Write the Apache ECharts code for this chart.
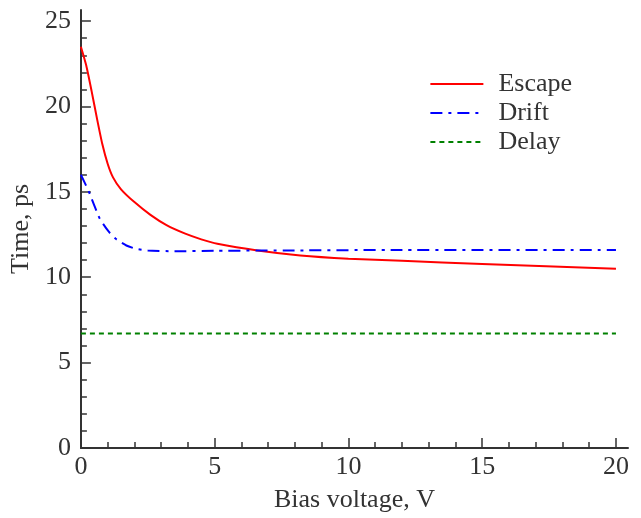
<!DOCTYPE html>
<html>
<head>
<meta charset="utf-8">
<script src="https://cdn.jsdelivr.net/npm/echarts@6/dist/echarts.min.js"></script>
<style>
  html, body { margin: 0; padding: 0; background: #fff; }
  #chart { width: 641px; height: 518px; }
</style>
</head>
<body>
<div id="chart"></div>
<script>
// values
var escapeX = [0, 0.2, 0.4, 0.6, 0.8, 1.0, 1.2, 1.5, 2.0, 2.6, 3.2, 3.9, 4.5, 5.1, 6.6, 8.2, 10, 12, 15, 20]
var escapeY = [23.5, 22.4, 20.9, 19.3, 17.8, 16.65, 15.85, 15.15, 14.4, 13.65, 13.05, 12.55, 12.22, 11.96, 11.57, 11.28, 11.09, 10.96, 10.78, 10.5]

var driftX = [0, 0.3, 0.7, 1.05, 1.3, 1.7, 2.05, 2.5, 3.5, 5, 8, 12, 20]
var driftY = [16.0, 15.0, 13.45, 12.65, 12.25, 11.86, 11.67, 11.57, 11.52, 11.55, 11.57, 11.6, 11.6]

var delayX = [0, 20]
var delayY = [6.7, 6.7]

var xMajor = [0, 5, 10, 15, 20]
var xMinor = [1, 2, 3, 4, 6, 7, 8, 9, 11, 12, 13, 14, 16, 17, 18, 19]
var yMajor = [0, 5, 10, 15, 20, 25]
var yMinor = [1, 2, 3, 4, 6, 7, 8, 9, 11, 12, 13, 14, 16, 17, 18, 19, 21, 22, 23, 24]

function pairs(xs, ys) {
  return xs.map(function(x, i) { return [x, ys[i]] })
}

var font = 'Liberation Serif'
var fs = 26
var ink = '#333'
var xMax = 20.45
var yMax = 25.65

var chart = echarts.init(document.getElementById('chart'))
chart.setOption({
  animation: false,
  grid: { left: 80, right: 13, top: 10, bottom: 67, containLabel: false },
  legend: {
    right: 64,
    top: 66,
    orient: 'vertical',
    itemWidth: 53,
    itemHeight: 26,
    itemGap: 3,
    itemStyle: { opacity: 0 },
    textStyle: { fontFamily: font, fontSize: fs, color: ink, padding: [0, 0, 0, 10] },
    data: ['Escape', 'Drift', 'Delay']
  },
  xAxis: [
    {
      type: 'value', min: 0, max: xMax, interval: 5,
      name: 'Bias voltage, V', nameLocation: 'middle', nameGap: 39,
      nameTextStyle: { fontFamily: font, fontSize: fs, color: ink },
      axisLine: { lineStyle: { color: ink, width: 2 } },
      axisTick: { inside: true, length: 10, customValues: xMajor, lineStyle: { color: ink, width: 1.5 } },
      axisLabel: { customValues: xMajor, margin: 6, fontFamily: font, fontSize: fs, color: ink },
      splitLine: { show: false }
    },
    {
      type: 'value', min: 0, max: xMax, position: 'bottom',
      axisLine: { show: false },
      axisTick: { inside: true, length: 6, customValues: xMinor, lineStyle: { color: ink, width: 1.5 } },
      axisLabel: { show: false },
      splitLine: { show: false }
    }
  ],
  yAxis: [
    {
      type: 'value', min: 0, max: yMax, interval: 5,
      name: 'Time, ps', nameLocation: 'middle', nameGap: 44,
      nameTextStyle: { fontFamily: font, fontSize: fs, color: ink },
      axisLine: { show: true, lineStyle: { color: ink, width: 2 } },
      axisTick: { show: true, inside: true, length: 10, customValues: yMajor, lineStyle: { color: ink, width: 1.5 } },
      axisLabel: { customValues: yMajor, margin: 10, fontFamily: font, fontSize: fs, color: ink },
      splitLine: { show: false }
    },
    {
      type: 'value', min: 0, max: yMax, position: 'left',
      axisLine: { show: false },
      axisTick: { show: true, inside: true, length: 6, customValues: yMinor, lineStyle: { color: ink, width: 1.5 } },
      axisLabel: { show: false },
      splitLine: { show: false }
    }
  ],
  series: [
    {
      name: 'Escape', type: 'line', smooth: 0.2, symbol: 'none',
      data: pairs(escapeX, escapeY),
      itemStyle: { color: '#ff0000' },
      lineStyle: { color: '#ff0000', width: 2 }
    },
    {
      name: 'Drift', type: 'line', smooth: 0.2, symbol: 'none',
      data: pairs(driftX, driftY),
      itemStyle: { color: '#0000ff' },
      lineStyle: { color: '#0000ff', width: 2, type: [12, 6, 3, 6] }
    },
    {
      name: 'Delay', type: 'line', symbol: 'none',
      data: pairs(delayX, delayY),
      itemStyle: { color: '#008000' },
      lineStyle: { color: '#008000', width: 2, type: [5, 4] }
    }
  ]
})
</script>
</body>
</html>
